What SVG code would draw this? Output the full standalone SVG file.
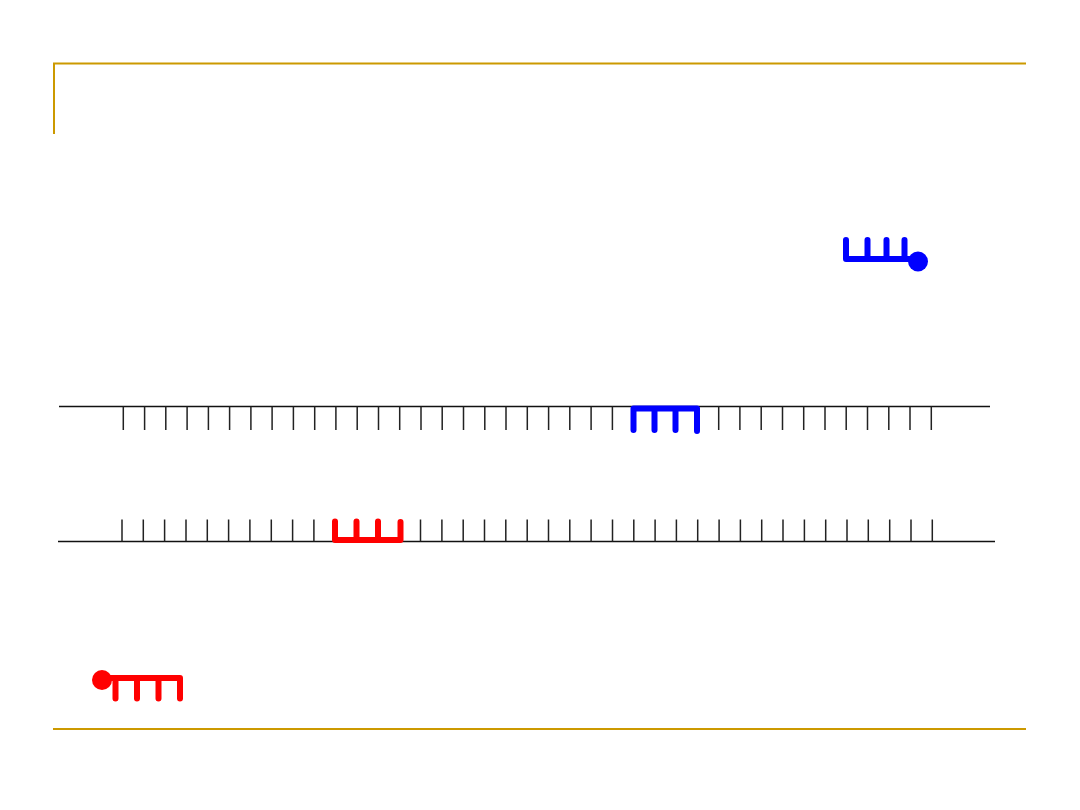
<svg xmlns="http://www.w3.org/2000/svg" width="1080" height="810" viewBox="0 0 1080 810">
<style>
.frame{stroke:#CC9900;stroke-width:2;fill:none}
.strand{stroke:#111;stroke-width:1.5;fill:none}
.tick{stroke:#222;stroke-width:1.5;fill:none}
.blue{stroke:#0000FF;stroke-width:6;fill:none;stroke-linecap:round;stroke-linejoin:round}
.red{stroke:#FF0000;stroke-width:6;fill:none;stroke-linecap:round;stroke-linejoin:round}
</style>
<rect width="1080" height="810" fill="#fff"/>
<g id="frame">
<path class="frame" d="M54,134 V63.5 H1026"/>
<path class="frame" d="M53,729 H1026"/>
</g>
<g id="top-strand">
<path class="strand" d="M59,406.5 H990"/>
<path class="tick" d="M123.3,406.5V430M144.6,406.5V430M165.8,406.5V430M187.1,406.5V430M208.4,406.5V430M229.6,406.5V430M250.9,406.5V430M272.1,406.5V430M293.4,406.5V430M314.7,406.5V430M335.9,406.5V430M357.2,406.5V430M378.5,406.5V430M399.7,406.5V430M421,406.5V430M442.2,406.5V430M463.5,406.5V430M484.8,406.5V430M506,406.5V430M527.3,406.5V430M548.6,406.5V430M569.8,406.5V430M591.1,406.5V430M612.4,406.5V430M718.7,406.5V430M739.9,406.5V430M761.2,406.5V430M782.5,406.5V430M803.7,406.5V430M825,406.5V430M846.2,406.5V430M867.5,406.5V430M888.8,406.5V430M910,406.5V430M931.3,406.5V430"/>
</g>
<g id="bottom-strand">
<path class="strand" d="M58,541.5 H995"/>
<path class="tick" d="M122,541.5V519.5M143.3,541.5V519.5M164.6,541.5V519.5M186,541.5V519.5M207.3,541.5V519.5M228.6,541.5V519.5M249.9,541.5V519.5M271.3,541.5V519.5M292.6,541.5V519.5M313.9,541.5V519.5M420.5,541.5V519.5M441.9,541.5V519.5M463.2,541.5V519.5M484.5,541.5V519.5M505.8,541.5V519.5M527.2,541.5V519.5M548.5,541.5V519.5M569.8,541.5V519.5M591.1,541.5V519.5M612.5,541.5V519.5M633.8,541.5V519.5M655.1,541.5V519.5M676.4,541.5V519.5M697.7,541.5V519.5M719.1,541.5V519.5M740.4,541.5V519.5M761.7,541.5V519.5M783,541.5V519.5M804.4,541.5V519.5M825.7,541.5V519.5M847,541.5V519.5M868.3,541.5V519.5M889.7,541.5V519.5M911,541.5V519.5M932.3,541.5V519.5"/>
</g>
<g id="blue-bound">
<path class="blue" d="M633.5,430 V408.5 H697 V431 M654.5,408.5 V430 M675.5,408.5 V430"/>
</g>
<g id="red-bound">
<path class="red" d="M335,521.5 V540 H400.5 V522 M356.5,540 V521.5 M378,540 V521.5"/>
</g>
<g id="blue-free">
<path class="blue" d="M846,240 V259 H916 M867.5,259 V240 M886.5,259 V240 M904.5,259 V240"/>
<circle cx="918" cy="261.5" r="10" fill="#0000FF"/>
</g>
<g id="red-free">
<circle cx="102" cy="680" r="10" fill="#FF0000"/>
<path class="red" d="M104,678 H180 V698.5 M115.5,678 V698.5 M137,678 V698.5 M158.5,678 V698.5"/>
</g>
</svg>
